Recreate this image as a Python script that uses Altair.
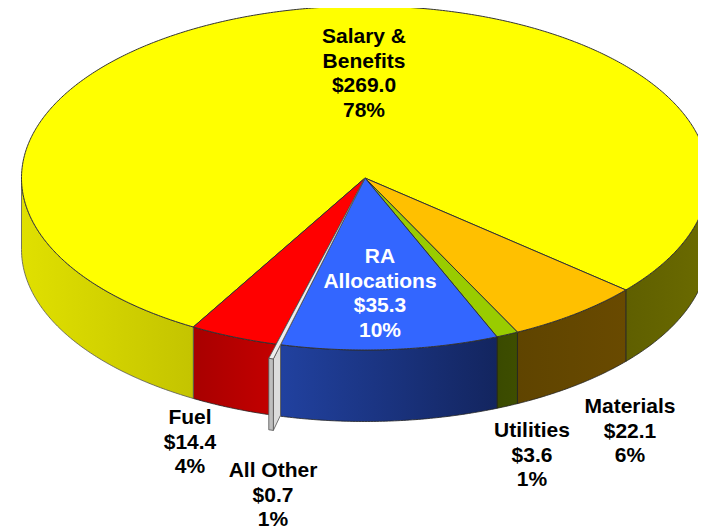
import math
import altair as alt

# ---- data ----
names = ["Materials", "Utilities", "RA Allocations", "All Other", "Fuel", "Salary & Benefits"]
values = [22.1, 3.6, 35.3, 0.7, 14.4, 269.0]
top_colors = ["#FFC000", "#99CC00", "#3366FF", "#EEEEEE", "#FF0000", "#FFFF00"]

label_lines = [
    ["Salary &", "Benefits", "$269.0", "78%"],
    ["RA", "Allocations", "$35.3", "10%"],
    ["Fuel", "$14.4", "4%"],
    ["All Other", "$0.7", "1%"],
    ["Utilities", "$3.6", "1%"],
    ["Materials", "$22.1", "6%"],
]
label_x = [364, 380, 190, 273, 532, 630]
label_y = [37, 257, 418, 471, 431, 407]
label_color = ["black", "white", "black", "black", "black", "black"]

# pie view: screen geometry of the tilted disc
CX, CY, RX, RY, DEPTH = 365, 178, 343.5, 172, 71.5
START = 130.6
EXPLODE = 1.085

X = alt.X("x:Q", axis=None, scale=alt.Scale(domain=[8, 698], nice=False, zero=False))
Y = alt.Y("y:Q", axis=None, scale=alt.Scale(domain=[532, 8], nice=False, zero=False))


def pt(t, k=1.0):
    a = math.radians(t)
    return CX + k * RX * math.sin(a), CY - k * RY * math.cos(a)


def arc(t0, t1, k=1.0):
    n = max(2, int(abs(t1 - t0) * 2))
    return [pt(t0 + (t1 - t0) * i / n, k) for i in range(n + 1)]


def poly(points, fill, stroke="#222222", width=1.0):
    rows = [{"x": x, "y": y, "i": i} for i, (x, y) in enumerate(points + points[:1])]
    return alt.Chart(alt.Data(values=rows)).mark_line(
        fill=fill, stroke=stroke, strokeWidth=width, clip=False
    ).encode(x=X, y=Y, order=alt.Order("i:Q"))


def wall(t0, t1, c0, c1, stroke="#222222"):
    rows = [{"x": x, "y": y, "y2": y + DEPTH} for x, y in arc(t0, t1)]
    grad = alt.LinearGradient(
        gradient="linear", x1=0, x2=1, y1=0, y2=0,
        stops=[alt.GradientStop(offset=0, color=c0), alt.GradientStop(offset=1, color=c1)],
    )
    return alt.Chart(alt.Data(values=rows)).mark_area(
        color=grad, stroke=stroke, strokeWidth=0.8
    ).encode(x=X, y=Y, y2="y2:Q")


total = sum(values)
edges = [START]
for v in values:
    edges.append(edges[-1] + v / total * 360)

layers = []
# side walls (only the part facing the viewer)
layers.append(wall(89, edges[0], "#5F5F00", "#6B6B00"))
layers.append(wall(edges[0], edges[1], "#5F4400", "#694A00"))
layers.append(wall(edges[1], edges[2], "#3A4A00", "#3E4E00"))
layers.append(wall(edges[2], edges[3], "#21419F", "#13255F"))
layers.append(wall(edges[4], edges[5], "#A80000", "#C40000"))
layers.append(wall(edges[5], 270, "#E0E000", "#C4C400", stroke="#555555"))

# top faces
for i in [5, 0, 1, 2, 4]:
    pts = [(CX, CY)] + arc(edges[i], edges[i + 1])
    layers.append(poly(pts, top_colors[i], stroke="#333333"))

# the small slice stands out from the disc
t0, t1 = edges[3], edges[4]
tipR = pt(t0, EXPLODE)
tipL = pt(t1, EXPLODE)
rim = pt(t0, 1.0)
layers.append(poly([tipR, (tipR[0], tipR[1] + DEPTH), (rim[0], rim[1] + DEPTH - 1), rim], "#DCDCDC", stroke="#555555", width=0.8))
layers.append(poly([tipL, (tipL[0], tipL[1] + DEPTH), (tipR[0], tipR[1] + DEPTH), tipR], "#BEBEBE", stroke="#555555", width=0.8))
layers.append(poly([(CX, CY), tipL, tipR], top_colors[3], stroke="#555555", width=0.8))

# labels
rows = []
for lines, lx, ly, col in zip(label_lines, label_x, label_y, label_color):
    for j, line in enumerate(lines):
        rows.append({"x": lx, "y": ly + j * 24.5, "t": line, "c": col})
layers.append(
    alt.Chart(alt.Data(values=rows)).mark_text(
        font="Liberation Sans", fontWeight="bold", fontSize=21, align="center", baseline="middle"
    ).encode(x=X, y=Y, text="t:N", color=alt.Color("c:N", scale=None, legend=None))
)

chart = alt.layer(*layers).properties(
    width=690, height=524, padding=0, autosize=alt.AutoSizeParams(type="none")
).configure_view(stroke=None)
chart.save("out.html", embed_options={"renderer": "svg", "actions": False})
